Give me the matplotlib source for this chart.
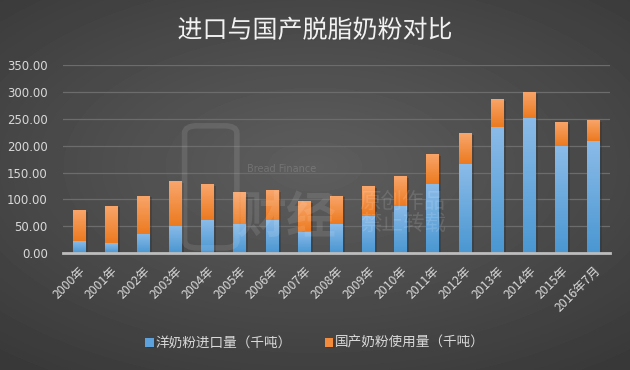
import matplotlib
matplotlib.use("Agg")
import matplotlib.pyplot as plt
import numpy as np
from matplotlib.colors import LinearSegmentedColormap
from matplotlib.patches import FancyBboxPatch
import matplotlib.patheffects as pe

plt.rcParams['font.family'] = ['Noto Sans CJK SC', 'DejaVu Sans']

# Data (thousand tonnes)
years = ['2000年', '2001年', '2002年', '2003年', '2004年', '2005年', '2006年',
         '2007年', '2008年', '2009年', '2010年', '2011年', '2012年', '2013年',
         '2014年', '2015年', '2016年7月']
imported = [21.8, 18.0, 35.4, 51.0, 61.0, 54.7, 61.0, 39.2, 54.0, 69.6,
            88.3, 128.0, 165.3, 234.3, 251.0, 198.9, 208.2]
domestic = [57.8, 70.3, 71.5, 82.6, 67.0, 58.3, 55.8, 57.1, 52.9, 54.7,
            54.7, 56.0, 57.7, 52.2, 48.6, 44.7, 39.2]
yticks = [0, 50, 100, 150, 200, 250, 300, 350]

title = '进口与国产脱脂奶粉对比'
label_imp = '洋奶粉进口量（千吨）'
label_dom = '国产奶粉使用量（千吨）'

fig = plt.figure(figsize=(6.3, 3.7), dpi=100)

# radial dark background
bg = fig.add_axes([0, 0, 1, 1], zorder=-10)
yy, xx = np.mgrid[-1:1:370j, -1:1:630j]
r = np.sqrt((xx * 0.9) ** 2 + ((yy + 0.1) * 1.0) ** 2)
bg.imshow(0.37 - 0.15 * np.clip(r, 0, 1.4) / 1.4, cmap='gray', vmin=0, vmax=1,
          aspect='auto', extent=[0, 1, 0, 1])
bg.axis('off')

ax = fig.add_axes([0.1, 0.316, 0.868, 0.508])
ax.set_facecolor('none')
x = np.arange(len(years))
w = 0.4

blue_cm = LinearSegmentedColormap.from_list('b', ['#4a97d2', '#8bbbe8'])
orange_cm = LinearSegmentedColormap.from_list('o', ['#ec7a1f', '#f9a66c'])
grad = np.linspace(0, 1, 64).reshape(-1, 1)

shadow = [pe.SimplePatchShadow(offset=(1.5, -1), alpha=0.35), pe.Normal()]
b1 = ax.bar(x, imported, w, color='#5da2dc', zorder=3, path_effects=shadow)
b2 = ax.bar(x, domestic, w, bottom=imported, color='#f28c3c', zorder=3,
            path_effects=shadow)

for bars, cm in ((b1, blue_cm), (b2, orange_cm)):
    for p in bars:
        x0, y0 = p.get_x(), p.get_y()
        im = ax.imshow(grad, cmap=cm, origin='lower', aspect='auto', zorder=4,
                       extent=[x0, x0 + p.get_width(), y0, y0 + p.get_height()])
        im.set_clip_path(p)

ax.set_xlim(-0.5, len(years) - 0.5)
ax.set_ylim(0, 350)
ax.set_yticks(yticks)
ax.set_yticklabels([f'{v:.2f}' for v in yticks], family='DejaVu Sans')
ax.yaxis.grid(True, color='#6c6c6c', lw=0.9, zorder=0)
ax.set_axisbelow(True)
for s in ('top', 'right', 'left'):
    ax.spines[s].set_visible(False)
ax.spines['bottom'].set_color('#bdbdbd')
ax.spines['bottom'].set_linewidth(2)
ax.spines['bottom'].set_zorder(5)
ax.tick_params(axis='y', length=0, pad=11, labelsize=8.5, colors='#d9d9d9')
ax.tick_params(axis='x', length=0, pad=8, labelsize=8.8, colors='#d9d9d9')
ax.set_xticks(x)
ax.set_xticklabels(years, rotation=45, ha='right', va='top',
                   rotation_mode='anchor')

# faint watermark on top of the bars
wm = fig.add_axes([0, 0, 1, 1], zorder=10)
wm.set_xlim(0, 1)
wm.set_ylim(0, 1)
wm.axis('off')
wm.add_patch(FancyBboxPatch((0.293, 0.33), 0.083, 0.33,
                            boxstyle='round,pad=0,rounding_size=0.02',
                            fill=False, ec='white', lw=4, alpha=0.1))
wm.text(0.392, 0.535, 'Bread Finance', color='white', alpha=0.15, fontsize=7,
        family='DejaVu Sans')
wm.text(0.375, 0.37, '财经', color='white', alpha=0.1, fontsize=36,
        weight='bold')
wm.text(0.571, 0.38, '原创作品\n禁止转载', color='white', alpha=0.13,
        fontsize=15.5, linespacing=0.95)

fig.text(0.5, 0.917, title, ha='center', va='center', fontsize=18,
         color='#f2f2f2',
         path_effects=[pe.withSimplePatchShadow(offset=(1, -1), alpha=0.6)])

leg = fig.legend([b1, b2], [label_imp, label_dom], loc='center',
                 bbox_to_anchor=(0.5, 0.073), ncol=2, frameon=False,
                 fontsize=9.8, handlelength=0.6, handleheight=0.6,
                 handletextpad=0.15, columnspacing=2.4)
for t in leg.get_texts():
    t.set_color('#d9d9d9')

fig.savefig('out.png', dpi=100)
